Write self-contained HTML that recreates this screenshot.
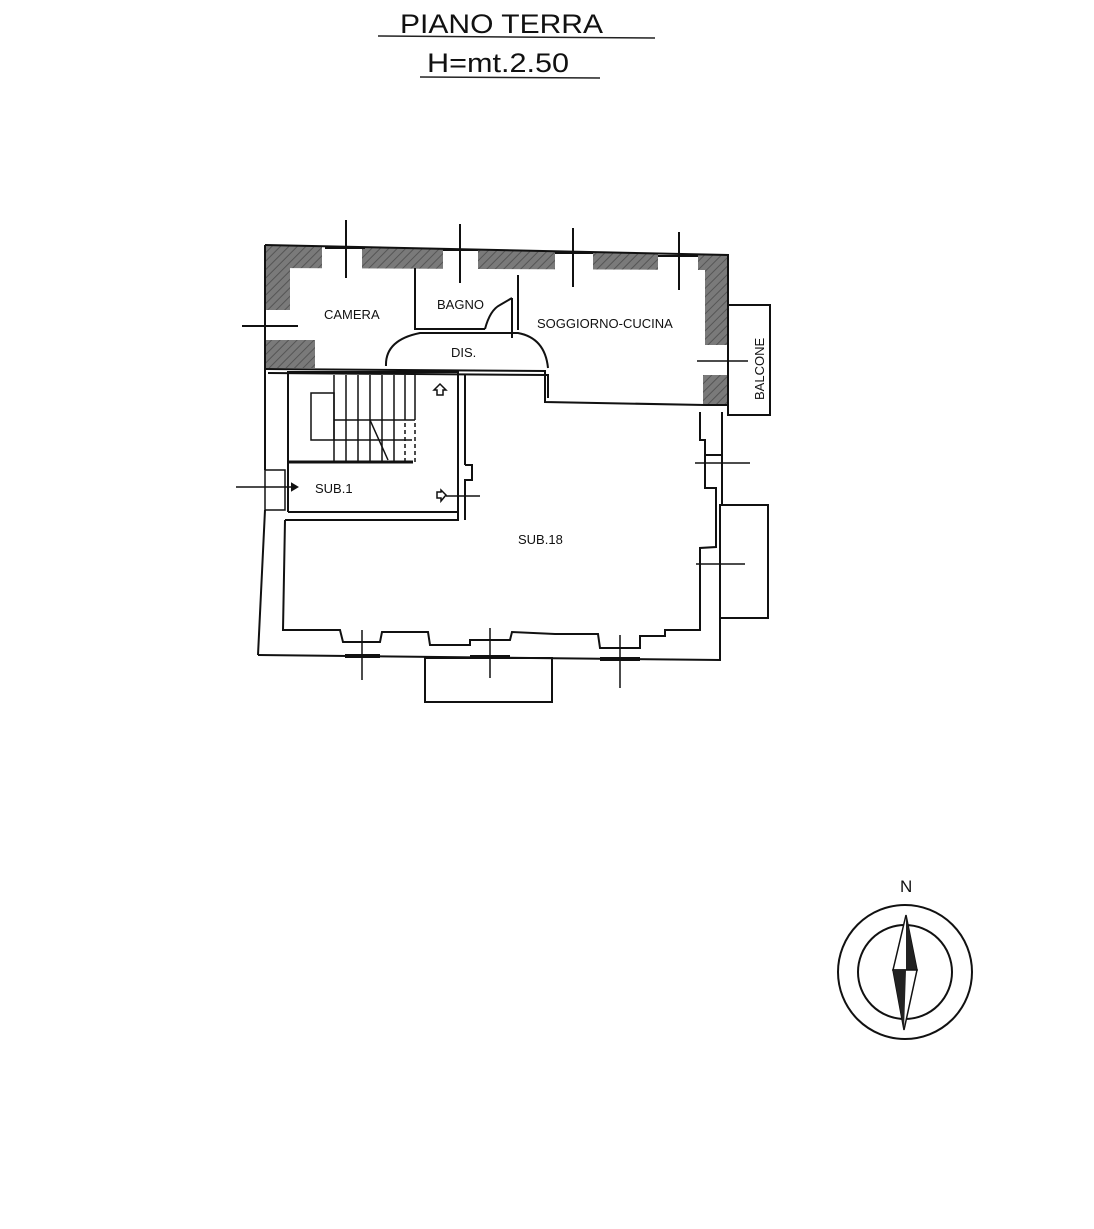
<!DOCTYPE html>
<html><head><meta charset="utf-8"><style>
html,body{margin:0;padding:0;background:#fff;}
svg{display:block;}
text{font-family:"Liberation Sans",Arial,sans-serif;fill:#111;}
</style></head><body>
<svg width="1094" height="1229" viewBox="0 0 1094 1229" xmlns="http://www.w3.org/2000/svg">
<defs>
<pattern id="h" width="6" height="6" patternUnits="userSpaceOnUse" patternTransform="rotate(45)">
<rect width="6" height="6" fill="#7a7a7a"/><line x1="0" y1="0" x2="0" y2="6" stroke="#555" stroke-width="2"/>
</pattern>
</defs>
<!-- Title -->
<text x="400" y="33" font-size="27" textLength="203" lengthAdjust="spacingAndGlyphs">PIANO TERRA</text>
<line x1="378" y1="36" x2="655" y2="38" stroke="#222" stroke-width="1.5"/>
<text x="427" y="72" font-size="27" textLength="142" lengthAdjust="spacingAndGlyphs">H=mt.2.50</text>
<line x1="420" y1="77" x2="600" y2="78" stroke="#222" stroke-width="1.5"/>

<g stroke="#111" stroke-width="2" fill="none">
<!-- hatched top walls -->
<path d="M265,245 L728,255 L728,345 L705,345 L705,270 L265,268 Z" fill="url(#h)" stroke="none"/>
<rect x="265" y="245" width="25" height="65" fill="url(#h)" stroke="none"/>
<rect x="265" y="340" width="50" height="28" fill="url(#h)" stroke="none"/>
<rect x="703" y="375" width="25" height="30" fill="url(#h)" stroke="none"/>
<rect x="322" y="244" width="40" height="26" fill="#fff" stroke="none"/>
<rect x="443" y="246" width="35" height="32" fill="#fff" stroke="none"/>
<rect x="555" y="249" width="38" height="30" fill="#fff" stroke="none"/>
<rect x="658" y="252" width="40" height="30" fill="#fff" stroke="none"/>
<rect x="266" y="310" width="20" height="30" fill="#fff" stroke="none"/>
<rect x="706" y="345" width="21" height="30" fill="#fff" stroke="none"/>
<path d="M265,245 L728,255 L728,405"/>
<line x1="265" y1="245" x2="265" y2="368"/>
<line x1="346" y1="220" x2="346" y2="278"/>
<line x1="460" y1="224" x2="460" y2="283"/>
<line x1="573" y1="228" x2="573" y2="287"/>
<line x1="679" y1="232" x2="679" y2="290"/>
<line x1="242" y1="326" x2="298" y2="326"/>
<line x1="325" y1="248" x2="365" y2="248"/><line x1="443" y1="250" x2="478" y2="250"/>
<line x1="555" y1="253" x2="593" y2="253"/><line x1="658" y1="256" x2="698" y2="256"/>
<!-- interior walls -->
<line x1="415" y1="268" x2="415" y2="330"/>
<line x1="518" y1="275" x2="518" y2="330"/>
<line x1="512" y1="298" x2="512" y2="338"/>
<line x1="415" y1="329" x2="485" y2="329"/>
<path d="M485,329 Q490,310 500,305 L512,298"/>
<path d="M386,366 Q385,340 420,333 L518,333 Q545,338 548,368"/>
<path d="M265,369 L545,371 L545,402 L705,405 M268,373 L548,375 L548,398"/>
<line x1="705" y1="405" x2="728" y2="405"/>
<rect x="728" y="305" width="42" height="110"/>
<line x1="697" y1="361" x2="748" y2="361" stroke-width="1.5"/>
<!-- stair block -->
<path d="M288,512 L288,372 L458,372 L458,520 L285,520"/>
<line x1="288" y1="512" x2="458" y2="512"/>
<line x1="288" y1="462" x2="413" y2="462" stroke-width="3"/>
<line x1="465" y1="375" x2="465" y2="465"/>
<path d="M465,465 L472,465 L472,480 L465,480 L465,520"/>
<g stroke-width="1.5">
<line x1="334" y1="375" x2="334" y2="462"/><line x1="346" y1="375" x2="346" y2="462"/>
<line x1="358" y1="375" x2="358" y2="462"/><line x1="370" y1="375" x2="370" y2="462"/>
<line x1="382" y1="375" x2="382" y2="462"/><line x1="394" y1="375" x2="394" y2="462"/>
<line x1="405" y1="375" x2="405" y2="420"/>
<line x1="415" y1="375" x2="415" y2="420"/>
<rect x="311" y="393" width="23" height="47"/>
<line x1="334" y1="420" x2="415" y2="420"/>
<line x1="334" y1="440" x2="412" y2="440"/>
<line x1="370" y1="420" x2="388" y2="460"/>
<path d="M405,423 L405,462 M415,423 L415,462" stroke-dasharray="4,3"/>
</g>
<path d="M434,390 L440,384 L446,390 L443,390 L443,395 L437,395 L437,390 Z" stroke-width="1.5"/>
<path d="M441,490 L446,495 L441,501 L441,498 L437,498 L437,492 L441,492 Z" stroke-width="1.5"/>
<line x1="446" y1="496" x2="480" y2="496" stroke-width="1.5"/>
<!-- left outer wall -->
<path d="M265,368 L265,470 M265,510 L258,655"/>
<rect x="265" y="470" width="20" height="40" stroke-width="1.5"/>
<line x1="236" y1="487" x2="295" y2="487" stroke-width="1.5"/>
<path d="M292,484 L297,487 L292,490 Z" fill="#111"/>
<!-- sub18 inner outline -->
<path d="M285,520 L283,630 L340,630 L343,642 L380,642 L382,632 L428,632 L430,645 L470,645 L470,640 L510,640 L512,632 L555,634 L598,634 L600,648 L640,648 L640,636 L665,636 L665,630 L700,630 L700,548 L716,547 L716,488 L705,488 L705,455 L722,455 L722,412"/>
<path d="M700,412 L700,440 L705,440 L705,455"/>
<!-- outer bottom & right -->
<path d="M258,655 L720,660 L720,618"/>
<path d="M722,455 L722,505"/>
<rect x="720" y="505" width="48" height="113"/>
<line x1="696" y1="564" x2="745" y2="564" stroke-width="1.5"/>
<line x1="695" y1="463" x2="750" y2="463" stroke-width="1.5"/>
<rect x="425" y="658" width="127" height="44"/>
<line x1="362" y1="630" x2="362" y2="680" stroke-width="1.5"/>
<line x1="490" y1="628" x2="490" y2="678" stroke-width="1.5"/>
<line x1="620" y1="635" x2="620" y2="688" stroke-width="1.5"/>
<line x1="345" y1="656" x2="380" y2="656" stroke-width="4"/>
<line x1="470" y1="657" x2="510" y2="657" stroke-width="4"/>
<line x1="600" y1="659" x2="640" y2="659" stroke-width="4"/>
</g>
<text x="324" y="319" font-size="13">CAMERA</text>
<text x="437" y="309" font-size="13">BAGNO</text>
<text x="537" y="328" font-size="13">SOGGIORNO-CUCINA</text>
<text x="451" y="357" font-size="13">DIS.</text>
<text x="764" y="400" font-size="13" transform="rotate(-90 764 400)">BALCONE</text>
<text x="315" y="493" font-size="13">SUB.1</text>
<text x="518" y="544" font-size="13">SUB.18</text>
<!-- compass -->
<text x="900" y="892" font-size="17">N</text>
<circle cx="905" cy="972" r="67" fill="none" stroke="#111" stroke-width="2"/>
<circle cx="905" cy="972" r="47" fill="none" stroke="#111" stroke-width="2"/>
<path d="M906,915 L917,970 L893,970 Z" fill="#fff" stroke="#111" stroke-width="1.5"/>
<path d="M906,915 L917,970 L906,970 Z" fill="#222"/>
<path d="M893,970 L917,970 L904,1030 Z" fill="#fff" stroke="#111" stroke-width="1.5"/>
<path d="M893,970 L906,970 L904,1030 Z" fill="#222"/>
</svg>
</body></html>
